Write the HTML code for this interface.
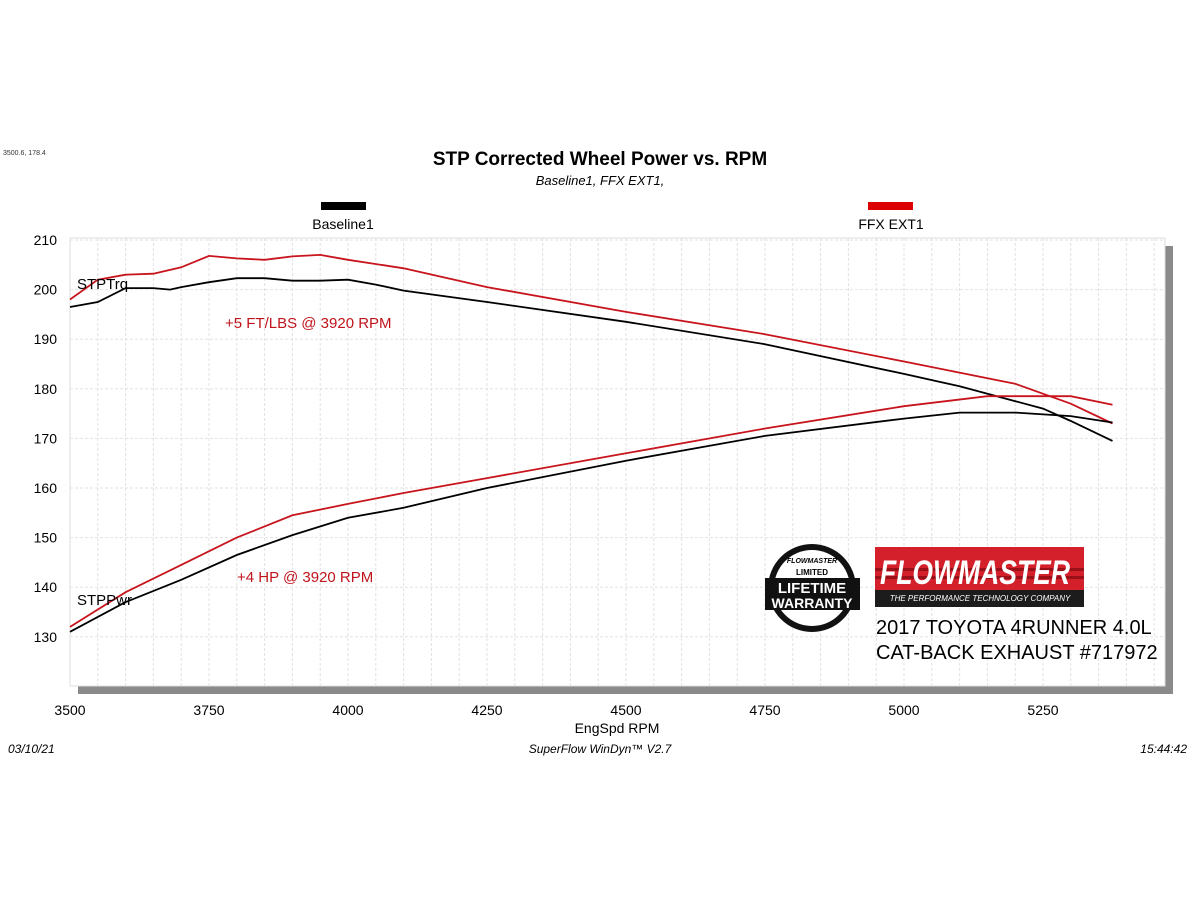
<!DOCTYPE html>
<html><head><meta charset="utf-8"><style>
body{margin:0;background:#fff;}
svg{display:block}
</style></head><body>
<svg id="s" width="1200" height="906" xmlns="http://www.w3.org/2000/svg" font-family="Liberation Sans, Arial, sans-serif">
<text x="3" y="155" font-size="7" fill="#333">3500.6, 178.4</text>
<text x="600" y="165" font-size="19" font-weight="bold" text-anchor="middle">STP Corrected Wheel Power vs. RPM</text>
<text x="600" y="185" font-size="13" font-style="italic" text-anchor="middle">Baseline1, FFX EXT1,</text>
<rect x="321" y="202" width="45" height="8" fill="#000"/>
<text x="343" y="229" font-size="14" text-anchor="middle">Baseline1</text>
<rect x="868" y="202" width="45" height="8" fill="#d00"/>
<text x="891" y="229" font-size="14" text-anchor="middle">FFX EXT1</text>
<rect x="78" y="246" width="1095" height="448" fill="#8a8a8a"/>
<rect x="70" y="238" width="1095" height="448" fill="#fff" stroke="#ddd"/>
<g id="grid"></g>
<g id="labels" font-size="14"></g>
<g id="curves" fill="none" stroke-width="1.8"></g>
<text x="77" y="289" font-size="15" font-family="Liberation Sans, sans-serif">STPTrq</text>
<text x="77" y="605" font-size="15">STPPwr</text>
<text x="225" y="328" font-size="15" fill="#c0141c">+5 FT/LBS @ 3920 RPM</text>
<text x="237" y="582" font-size="15" fill="#c0141c">+4 HP @ 3920 RPM</text>
<circle cx="812" cy="588" r="44" fill="#111"/>
<circle cx="812" cy="588" r="38" fill="#fff"/>
<rect x="765" y="578" width="95" height="32" fill="#111"/>
<text x="812" y="593" font-size="15" font-weight="bold" fill="#fff" text-anchor="middle">LIFETIME</text>
<text x="812" y="608" font-size="14" font-weight="bold" fill="#fff" text-anchor="middle">WARRANTY</text>
<text x="812" y="575" font-size="8" font-weight="bold" text-anchor="middle">LIMITED</text>
<text x="812" y="563" font-size="7" font-style="italic" font-weight="bold" text-anchor="middle">FLOWMASTER</text>
<rect x="875" y="547" width="209" height="60" fill="#1c1c1c"/>
<rect x="875" y="547" width="209" height="43" fill="#d3202a"/>
<rect x="875" y="568" width="209" height="3" fill="#9a1018"/>
<rect x="875" y="576" width="209" height="3" fill="#9a1018"/>
<text x="975" y="584" font-size="34" font-weight="bold" font-style="italic" fill="#fff" text-anchor="middle" textLength="190" lengthAdjust="spacingAndGlyphs">FLOWMASTER</text>
<text x="980" y="601" font-size="8" font-style="italic" fill="#fff" text-anchor="middle">THE PERFORMANCE TECHNOLOGY COMPANY</text>
<text x="876" y="634" font-size="20">2017 TOYOTA 4RUNNER 4.0L</text>
<text x="876" y="659" font-size="20">CAT-BACK EXHAUST #717972</text>
<text x="617" y="733" font-size="14" text-anchor="middle">EngSpd  RPM</text>
<text x="8" y="753" font-size="12" font-style="italic">03/10/21</text>
<text x="600" y="753" font-size="12" font-style="italic" text-anchor="middle">SuperFlow WinDyn™  V2.7</text>
<text x="1187" y="753" font-size="12" font-style="italic" text-anchor="end">15:44:42</text>
</svg>
<script>
var NS="http://www.w3.org/2000/svg";
function X(r){return 70+(r-3500)/250*139;}
function Y(v){return 240+(210-v)*4.96;}
var g=document.getElementById('grid'),l=document.getElementById('labels');
function el(p,t,a){var e=document.createElementNS(NS,t);for(var k in a)e.setAttribute(k,a[k]);p.appendChild(e);return e;}
for(var r=3550;r<5470;r+=50){var x=X(r);el(g,'line',{x1:x,x2:x,y1:238,y2:686,stroke:'#e2e2e2','stroke-dasharray':'3,2'});}
for(var v=120;v<=210;v+=10){var y=Y(v);if(y<239||y>686)continue;el(g,'line',{x1:70,x2:1165,y1:y,y2:y,stroke:'#e2e2e2','stroke-dasharray':'3,2'});}
for(var r=3500;r<=5250;r+=250){var t=el(l,'text',{x:X(r),y:715,'text-anchor':'middle'});t.textContent=r;}
for(var v=130;v<=210;v+=10){var t=el(l,'text',{x:57,y:Y(v)+5,'text-anchor':'end'});t.textContent=v;}
var c=document.getElementById('curves');
function path(d,col){var s='';d.forEach(function(p,i){s+=(i?'L':'M')+X(p[0]).toFixed(1)+','+Y(p[1]).toFixed(1);});el(c,'path',{d:s,stroke:col});}
path([[3500,196.5],[3550,197.5],[3600,200.3],[3650,200.3],[3680,200],[3700,200.5],[3750,201.5],[3800,202.3],[3850,202.3],[3900,201.8],[3950,201.8],[4000,202],[4050,201],[4100,199.8],[4250,197.5],[4500,193.5],[4750,189],[5000,183],[5100,180.5],[5250,176],[5300,173.5],[5375,169.5]],'#000');
path([[3500,198],[3550,202],[3600,203],[3650,203.2],[3700,204.5],[3750,206.8],[3800,206.3],[3850,206],[3900,206.7],[3950,207],[4000,206],[4100,204.3],[4250,200.5],[4500,195.5],[4750,191],[5000,185.5],[5200,181],[5300,177],[5375,173]],'#c8141c');
path([[3500,131],[3600,137],[3700,141.5],[3800,146.5],[3900,150.5],[4000,154],[4100,156],[4250,160],[4500,165.5],[4750,170.5],[5000,174],[5100,175.2],[5200,175.2],[5300,174.5],[5375,173.2]],'#000');
path([[3500,132],[3600,139],[3700,144.5],[3800,150],[3900,154.5],[4000,156.8],[4100,159],[4250,162],[4500,167],[4750,172],[5000,176.5],[5150,178.5],[5300,178.5],[5375,176.8]],'#c8141c');
</script>
</body></html>
